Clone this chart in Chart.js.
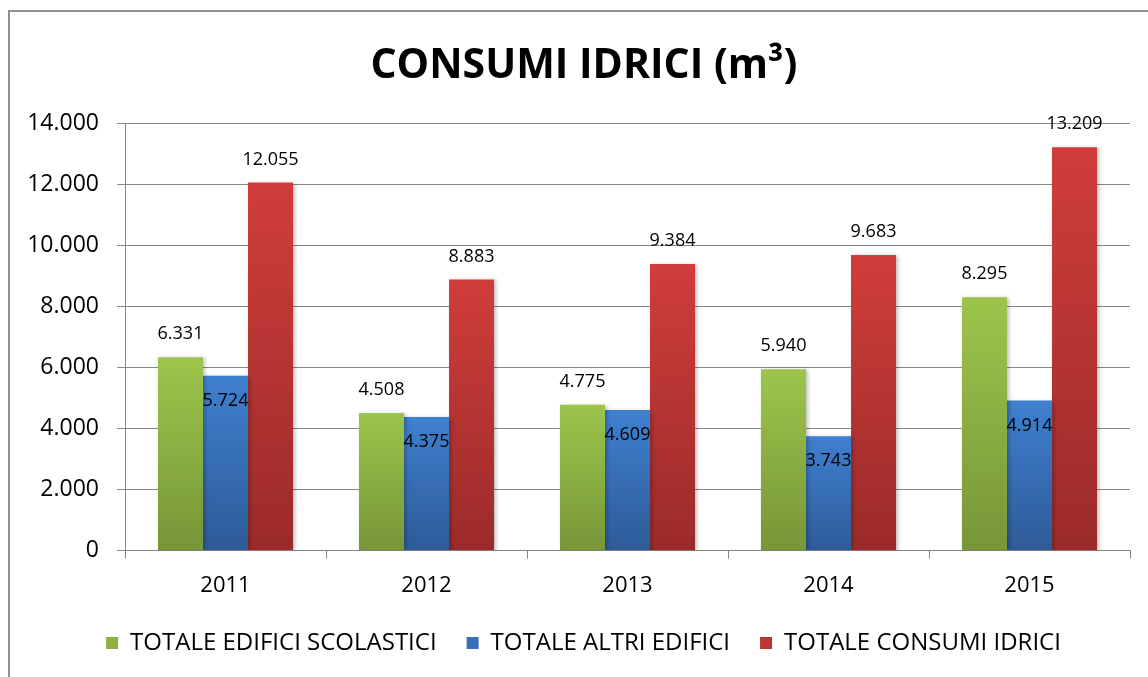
<!DOCTYPE html>
<html>
<head>
<meta charset="utf-8">
<script src="https://cdn.jsdelivr.net/npm/chart.js@4"></script>
<style>
    body { margin: 0; background: #fff; overflow: hidden; }
    #frame { position: absolute; left: 8px; top: 10px; width: 1200px; height: 720px; border: 2px solid #8f8f8f; }
    #myChart { position: absolute; left: 0; top: 0; }
</style>
</head>
<body>
<div id="frame"></div>
<canvas id="myChart" width="1148" height="677"></canvas>
<script>
let years = ['2011', '2012', '2013', '2014', '2015'];
let scolastici = [6331, 4508, 4775, 5940, 8295];
let altri = [5724, 4375, 4609, 3743, 4914];
let totale = [12055, 8883, 9384, 9683, 13209];
let yTicks = [0, 2000, 4000, 6000, 8000, 10000, 12000, 14000];

const FONT = "'Open Sans', 'Noto Sans', sans-serif";

function fmt(v) {
    return String(v).replace(/\B(?=(\d{3})+(?!\d))/g, '.');
}

// vertical gradient for each bar, from its top to the axis
function barGradient(top, bottom) {
    return (context) => {
        const chart = context.chart;
        const y = chart.scales.y;
        if (!chart.chartArea || !y || context.parsed === undefined) return top;
        const yTop = y.getPixelForValue(context.parsed.y);
        const yBase = y.getPixelForValue(0);
        const g = chart.ctx.createLinearGradient(0, yTop, 0, yBase);
        g.addColorStop(0, top);
        g.addColorStop(1, bottom);
        return g;
    };
}

// nudge title and legend: a bit to the right, legend closer to the axis labels
const blockShift = {
    id: 'blockShift',
    afterLayout(chart) {
        const l = chart.legend;
        l.left += 37;
        l.top -= 12;
        l.bottom -= 12;
        chart.titleBlock.left += 38;
    }
};

const barShadow = {
    id: 'barShadow',
    beforeDatasetsDraw(chart) {
        const c = chart.ctx;
        c.save();
        c.shadowColor = 'rgba(0,0,0,0.25)';
        c.shadowBlur = 4;
        c.shadowOffsetX = 2;
        c.shadowOffsetY = 1;
    },
    afterDatasetsDraw(chart) {
        chart.ctx.restore();
    }
};

const valueLabels = {
    id: 'valueLabels',
    afterDatasetsDraw(chart) {
        const c = chart.ctx;
        c.save();
        c.font = '18px ' + FONT;
        c.fillStyle = '#000';
        c.textAlign = 'center';
        c.textBaseline = 'middle';
        chart.data.datasets.forEach((ds, i) => {
            chart.getDatasetMeta(i).data.forEach((bar, j) => {
                // the middle series sits just inside its bar, the others above
                const dy = i === 1 ? 25 : -23;
                c.fillText(fmt(ds.data[j]), bar.x, bar.y + dy);
            });
        });
        c.restore();
    }
};

let ctx = document.getElementById('myChart').getContext('2d');

let myChart = new Chart(ctx, {
    type: 'bar',
    data: {
        labels: years,
        datasets: [
            {
                label: 'TOTALE EDIFICI SCOLASTICI',
                data: scolastici,
                backgroundColor: barGradient('#9dc54b', '#779638'),
                legendColor: '#8db143'
            },
            {
                label: 'TOTALE ALTRI EDIFICI',
                data: altri,
                backgroundColor: barGradient('#3f80d0', '#2d5b97'),
                legendColor: '#376fb8'
            },
            {
                label: 'TOTALE CONSUMI IDRICI',
                data: totale,
                backgroundColor: barGradient('#d03d3a', '#9a2b2a'),
                legendColor: '#bb3633'
            }
        ]
    },
    options: {
        responsive: false,
        animation: false,
        categoryPercentage: 0.672,
        barPercentage: 1.0,
        layout: {
            padding: { left: 0, right: 18, top: 0, bottom: 0 }
        },
        scales: {
            x: {
                grid: {
                    offset: true,
                    drawOnChartArea: false,
                    tickLength: 8,
                    color: '#878787'
                },
                border: { color: '#878787', width: 1 },
                ticks: {
                    color: '#000',
                    font: { family: FONT, size: 22 },
                    padding: 14
                }
            },
            y: {
                min: 0,
                max: 14000,
                afterBuildTicks: (scale) => {
                    scale.ticks = yTicks.map(v => ({ value: v }));
                },
                afterFit: (scale) => {
                    scale.width = 125;
                },
                grid: {
                    color: '#878787',
                    tickLength: 8
                },
                border: { color: '#878787', width: 1 },
                ticks: {
                    color: '#000',
                    font: { family: FONT, size: 23 },
                    padding: 18,
                    callback: (v) => fmt(v)
                }
            }
        },
        plugins: {
            title: {
                display: true,
                text: 'CONSUMI IDRICI (m³)',
                color: '#000',
                font: { family: FONT, size: 41, weight: 'bold' },
                padding: { top: 42, bottom: 32 }
            },
            legend: {
                position: 'bottom',
                labels: {
                    color: '#000',
                    font: { family: FONT, size: 24 },
                    boxWidth: 12,
                    boxHeight: 12,
                    padding: 30,
                    generateLabels: (chart) => chart.data.datasets.map((ds, i) => ({
                        text: ds.label,
                        fillStyle: ds.legendColor,
                        strokeStyle: ds.legendColor,
                        lineWidth: 0,
                        datasetIndex: i
                    }))
                }
            },
            tooltip: { enabled: false }
        }
    },
    plugins: [blockShift, barShadow, valueLabels]
});
</script>
</body>
</html>
